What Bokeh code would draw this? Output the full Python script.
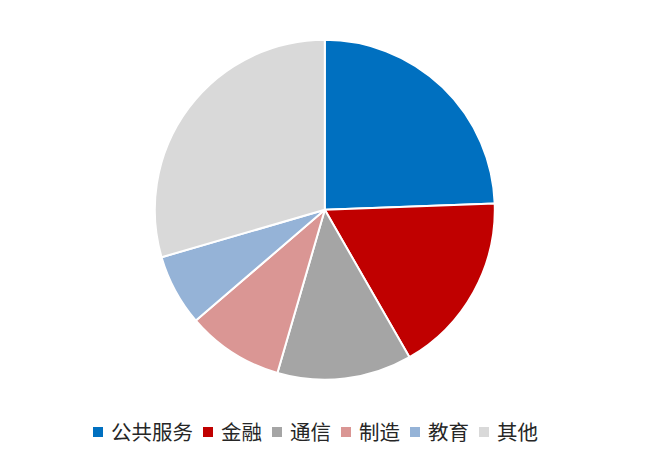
import math
from bokeh.plotting import figure
from bokeh.models import ColumnDataSource, Range1d, Legend, LegendItem
from bokeh.embed import file_html
from bokeh.resources import INLINE

# ---- data ----
categories = ["公共服务", "金融", "通信", "制造", "教育", "其他"]
shares = [24.4, 17.3, 12.8, 9.2, 6.8, 29.5]
colors = ["#0070C0", "#C00000", "#A5A5A5", "#DA9694", "#95B3D7", "#D9D9D9"]

# ---- angles (clockwise from 12 o'clock) ----
total = sum(shares)
starts, ends = [], []
cum = 0.0
for s in shares:
    a0 = math.pi / 2 - 2 * math.pi * (cum + s) / total
    a1 = math.pi / 2 - 2 * math.pi * cum / total
    starts.append(a0)
    ends.append(a1)
    cum += s

W, H = 644, 453
R_PX = 170.0
CX, CY = 324.3, 209.3  # pie centre in canvas pixels (from top-left)

p = figure(width=W, height=H, output_backend="svg", toolbar_location=None,
           x_axis_location=None, y_axis_location=None, min_border=0,
           x_range=Range1d(-CX / R_PX, (W - CX) / R_PX),
           y_range=Range1d(-(H - CY) / R_PX, CY / R_PX))
p.outline_line_color = None
p.xgrid.visible = False
p.ygrid.visible = False
p.background_fill_color = "white"
p.border_fill_color = "white"

items = []
for i, cat in enumerate(categories):
    src = ColumnDataSource(dict(start=[starts[i]], end=[ends[i]]))
    r = p.wedge(x=0, y=0, radius=1.0, start_angle="start", end_angle="end",
                direction="anticlock", fill_color=colors[i],
                line_color="white", line_width=2, source=src)
    items.append(LegendItem(label=cat, renderers=[r]))

legend = Legend(items=items, orientation="horizontal", location=(90.0, 7.0),
                glyph_width=15, glyph_height=15, label_standoff=6, spacing=7,
                padding=0, margin=0, border_line_color=None,
                background_fill_alpha=0,
                label_text_font="Noto Sans CJK SC", label_text_font_size="20.5px",
                label_text_color="#262626")
p.add_layout(legend, "center")

open("out.html", "w").write(file_html(p, INLINE))
